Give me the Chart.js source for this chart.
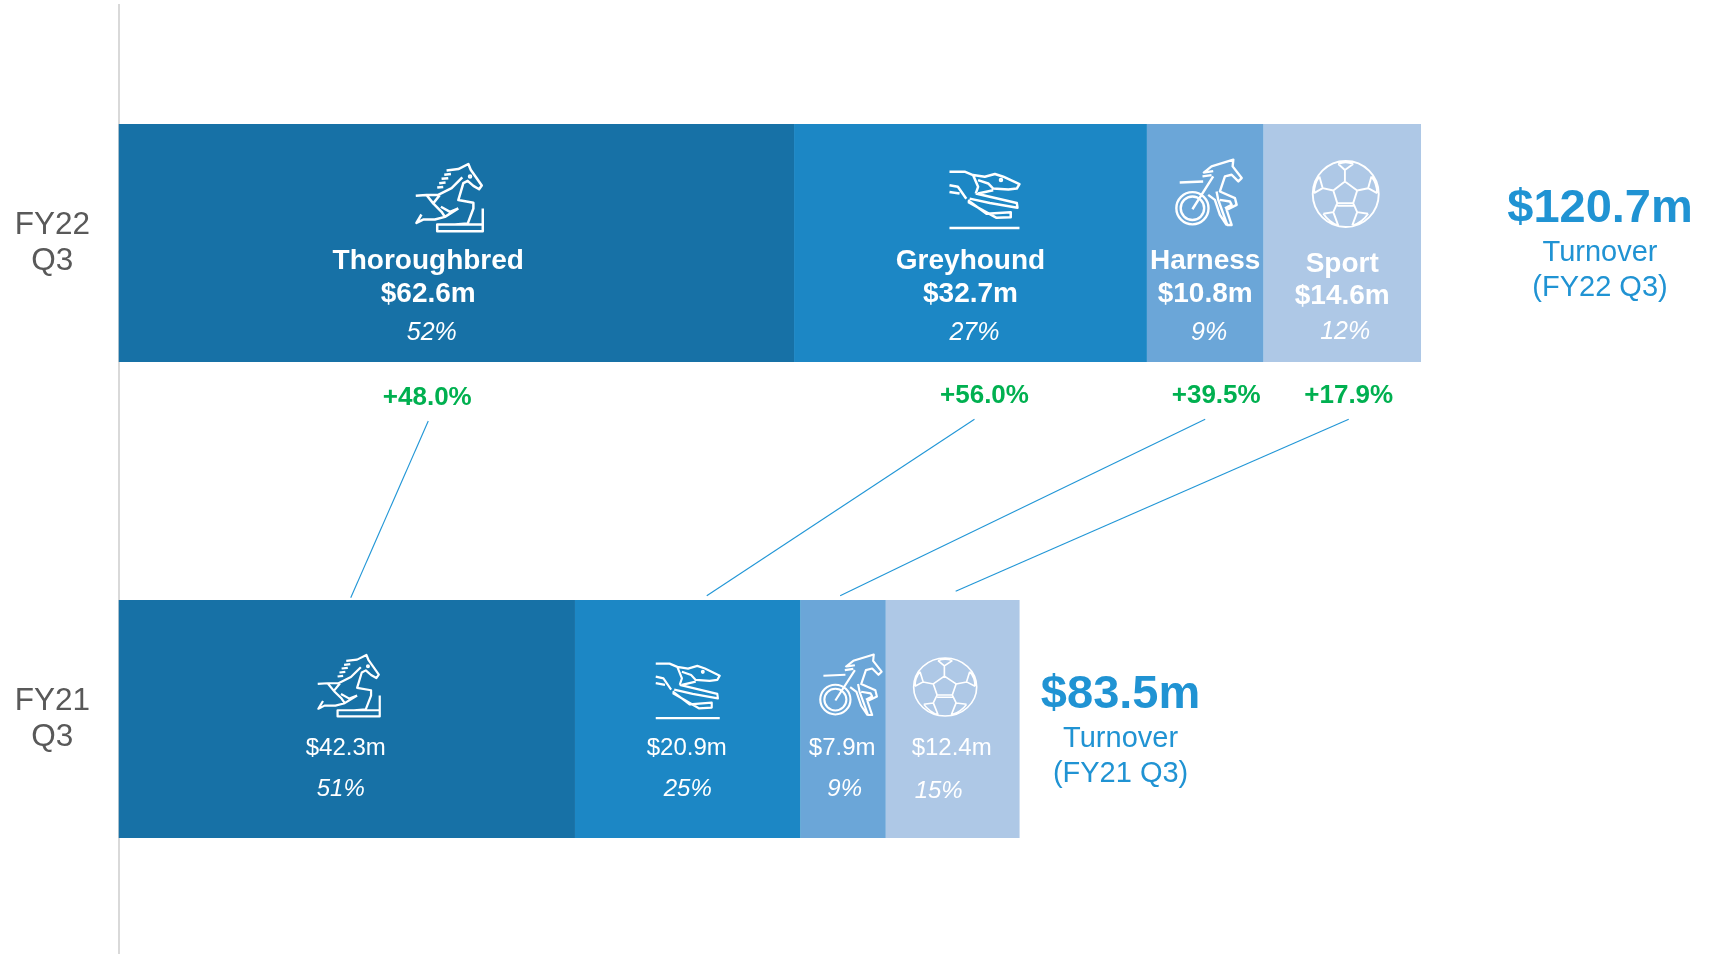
<!DOCTYPE html>
<html>
<head>
<meta charset="utf-8">
<title>Turnover FY22 Q3 vs FY21 Q3</title>
<style>
html,body{margin:0;padding:0;background:#fff;overflow:hidden;width:1714px;height:954px}
canvas{display:block}
</style>
<script src="https://cdn.jsdelivr.net/npm/chart.js@4/dist/chart.umd.min.js"></script>
</head>
<body>
<canvas id="c" width="1714" height="958"></canvas>
<script>
// ---------- data ----------
const periods = [['FY22','Q3'],['FY21','Q3']];
const periodNames = ['FY22 Q3','FY21 Q3'];
const codes = ['Thoroughbred','Greyhound','Harness','Sport'];
const thoroughbred = [62.6,42.3];
const greyhound = [32.7,20.9];
const harness = [10.8,7.9];
const sport = [14.6,12.4];
const totals = [120.7,83.5];
const sharesFY22 = [52,27,9,12];
const sharesFY21 = [51,25,9,15];
const growth = ['+48.0%','+56.0%','+39.5%','+17.9%'];
const colours = ['#1771a6','#1c87c5','#6ba6d8','#aec8e6'];

// ---------- annotation layout (offsets from scale anchors) ----------
const FONT = '"Liberation Sans", Arial, sans-serif';
const TXT = '#ffffff', BLUE = '#2093d3', GREEN = '#00b050';
const topLay = {
  name:{dx:[-28,0,0,0],dy:[18,18,18,21.5]},
  val:{dx:[-28,0,0,0],dy:[51,51,51,53]},
  pct:{dx:[-24.5,4,4,3],dy:[90,90,90,89]},
  grow:{dx:[-29,14,11,6.5],dy:[154.8,152.6,152.6,152.6]},
  link:{dx:[-28,4,0,6.5],dy:[178,176.3,176.3,176.3]}
};
const botLay = {
  val:{dx:[-1,-1,-1,-1],dy:[29.6,29.6,29.6,29.6]},
  pct:{dx:[-6,0,1.5,-14],dy:[70,70,70,72]},
  link:{dx:[4,19,-3,3],dy:[-121.3,-123.3,-123.3,-127.7]}
};
const iconTop = [[-7,-45,67,68],[14,-43,70,58],[3.5,-50.5,66,67],[3.5,-49,66,66]];
const iconBot = [[2,-33,62,62],[0,-28,64,56],[7.5,-34,62,62],[-7.5,-32,63,58]];
const iconWidth = [2.5,2.5,2.4,1.9];
const totalText = [{dx:179,dy:[-34,10,45]},{dx:101,dy:[-23.5,20,55]}];

// ---------- icon line art (drawn in own local box) ----------
const art = [
 {box:[33,28,200,202], d:'M125 47L160 43L190 28L197 45L230 92L222 103L205 93L188 78L175 85L160 135L205 143L205 160L188 205L150 208 M172 68L140 100L100 120L65 120L33 122 M65 120L85 145L105 120 M85 145L110 170L120 185L90 193L55 193L35 203L50 178 M108 155L135 170L160 160 M120 185L160 160 M233 160L233 228L97 228L97 208L233 208 M118 60L138 58 M110 72L130 70 M103 85L122 83 M97 98L115 96 M192 65a3 3 0 1 0 6 0a3 3 0 1 0 -6 0'},
 {box:[30,33,208,172], d:'M30 35L75 35L100 45L115 80L108 100 M100 45L135 50L165 42L190 50L238 72L230 85L205 88L160 85L145 70L115 60 M115 100L160 90 M108 100L230 128L232 142L150 128L90 115 M85 120L140 160L212 155L212 170L170 172L85 125 M30 75L55 80L80 115 M30 95L60 100 M30 202L238 202 M180 60a3 3 0 1 0 6 0a3 3 0 1 0 -6 0'},
 {box:[18,28,197,200], d:'M68 175m-48 0a48 48 0 1 0 96 0a48 48 0 1 0 -96 0 M68 175m-35 0a35 35 0 1 0 70 0a35 35 0 1 0 -70 0 M68 178L130 80 M30 98L100 95 M100 70L125 50L190 30L188 50L215 85L205 95L185 75L165 80L150 125L195 145L200 165L170 180L185 225L172 225L145 150L140 125 M115 135L135 150L150 195L170 225 M98 80L125 76 M105 68L130 64 M150 150L180 155L185 165L165 175'},
 {box:[38,33,199,199], d:'M237 132.5a99.5 99.5 0 1 0 -199 0a99.5 99.5 0 1 0 199 0 M135 95L172 122L160 160L112 160L100 122Z M135 95L135 60 M115 42L135 60L160 42 M115 42Q137 32 160 42 M172 122L205 115L215 80 M205 115L232 130 M215 80Q232 100 232 130 M100 122L68 115L58 80 M68 115L42 130 M58 80Q42 100 42 130 M160 160L172 187L205 192 M172 187L157 228 M205 192Q188 218 157 228 M112 160L100 187L70 192 M100 187L115 228 M70 192Q88 218 115 228 M112 168L162 168'}
].map(a => ({box:a.box, path:new Path2D(a.d)}));

function drawIcon(ctx, i, cx, cy, spec, width) {
  const [dx,dy,w,h] = spec, a = art[i], [bx,by,bw,bh] = a.box;
  const sx = w/bw, sy = h/bh;
  ctx.save();
  ctx.translate(cx+dx-w/2, cy+dy-h/2);
  ctx.scale(sx, sy);
  ctx.translate(-bx, -by);
  ctx.strokeStyle = '#ffffff';
  ctx.lineWidth = width/((sx+sy)/2);
  ctx.lineJoin = 'round';
  ctx.lineCap = 'butt';
  ctx.stroke(a.path);
  ctx.restore();
}
function text(ctx, s, x, y, font, colour) {
  ctx.font = font; ctx.fillStyle = colour;
  ctx.textAlign = 'center'; ctx.textBaseline = 'middle';
  ctx.fillText(s, x, y);
}
const series = [thoroughbred, greyhound, harness, sport];

const annotations = {
  id:'annotations',
  afterDatasetsDraw(chart) {
    const ctx = chart.ctx, X = chart.scales.x, Y = chart.scales.y;
    const y0 = Y.getPixelForValue(0), y1 = Y.getPixelForValue(1);
    let c0 = 0, c1 = 0;
    ctx.save();
    series.forEach((s,i) => {
      const m0 = X.getPixelForValue(c0 + s[0]/2), m1 = X.getPixelForValue(c1 + s[1]/2);
      c0 += s[0]; c1 += s[1];
      ctx.beginPath();
      ctx.moveTo(m0+topLay.link.dx[i], y0+topLay.link.dy[i]);
      ctx.lineTo(m1+botLay.link.dx[i], y1+botLay.link.dy[i]);
      ctx.strokeStyle = '#2196d6'; ctx.lineWidth = 1.1; ctx.stroke();
      drawIcon(ctx, i, m0, y0, iconTop[i], iconWidth[i]);
      drawIcon(ctx, i, m1, y1, iconBot[i], iconWidth[i]-0.3);
      text(ctx, codes[i], m0+topLay.name.dx[i], y0+topLay.name.dy[i], 'bold 28px '+FONT, TXT);
      text(ctx, '$'+s[0].toFixed(1)+'m', m0+topLay.val.dx[i], y0+topLay.val.dy[i], 'bold 28px '+FONT, TXT);
      text(ctx, sharesFY22[i]+'%', m0+topLay.pct.dx[i], y0+topLay.pct.dy[i], 'italic 25px '+FONT, TXT);
      text(ctx, growth[i], m0+topLay.grow.dx[i], y0+topLay.grow.dy[i], 'bold 26px '+FONT, GREEN);
      text(ctx, '$'+s[1].toFixed(1)+'m', m1+botLay.val.dx[i], y1+botLay.val.dy[i], '24px '+FONT, TXT);
      text(ctx, sharesFY21[i]+'%', m1+botLay.pct.dx[i], y1+botLay.pct.dy[i], 'italic 24px '+FONT, TXT);
    });
    totals.forEach((t,k) => {
      const x = X.getPixelForValue(t) + totalText[k].dx, y = k===0 ? y0 : y1, dy = totalText[k].dy;
      text(ctx, '$'+t.toFixed(1)+'m', x, y+dy[0], 'bold 47px '+FONT, BLUE);
      text(ctx, 'Turnover', x, y+dy[1], '29px '+FONT, BLUE);
      text(ctx, '('+periodNames[k]+')', x, y+dy[2], '29px '+FONT, BLUE);
    });
    ctx.restore();
  }
};

new Chart(document.getElementById('c'), {
  type:'bar',
  data:{
    labels:periods,
    datasets:series.map((s,i)=>({label:codes[i],data:s,backgroundColor:colours[i],borderWidth:0,barPercentage:0.5,categoryPercentage:1}))
  },
  options:{
    indexAxis:'y',
    responsive:false,
    animation:false,
    events:[],
    layout:{padding:{top:5,bottom:1,left:0,right:0}},
    plugins:{legend:{display:false},tooltip:{enabled:false},title:{display:false}},
    scales:{
      x:{display:false,stacked:true,min:0,max:147.85},
      y:{
        stacked:true,
        afterFit(s){s.width=118.5;s.paddingTop=0;s.paddingBottom=0;},
        grid:{drawOnChartArea:false,drawTicks:false},
        border:{display:true,color:'#d9d9d9',width:2},
        ticks:{color:'#595959',font:{family:FONT,size:31.5,lineHeight:1.14},crossAlign:'center',padding:28.5,autoSkip:false}
      }
    }
  },
  plugins:[annotations]
});
</script>
</body>
</html>
